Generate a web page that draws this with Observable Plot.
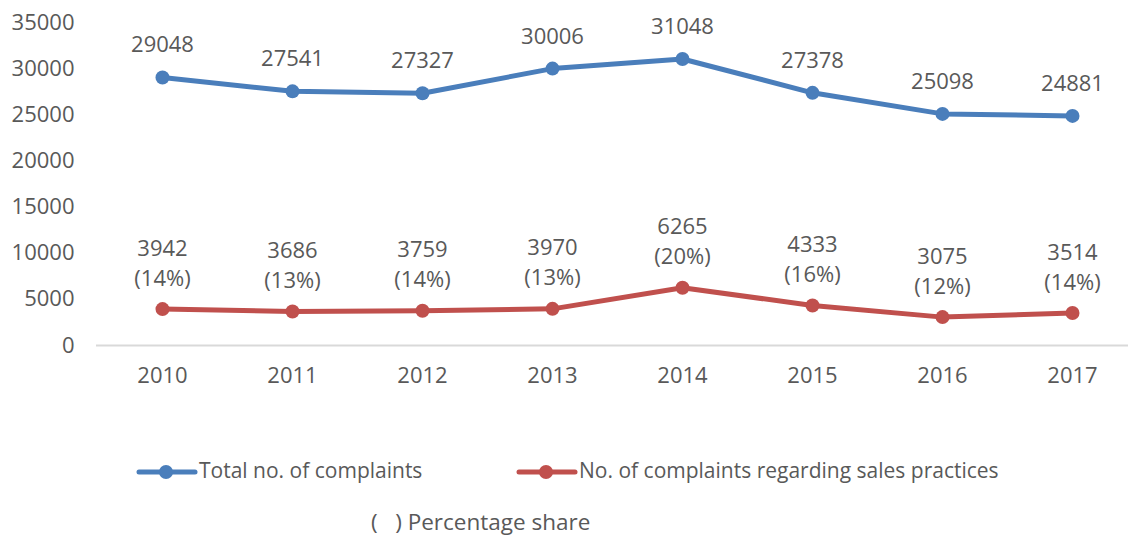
<!DOCTYPE html>
<html>
<head>
<meta charset="utf-8">
<script src="https://cdn.jsdelivr.net/npm/d3@7"></script>
<script src="https://cdn.jsdelivr.net/npm/@observablehq/plot@0.6"></script>
<style>
  body { margin: 0; background: #fff; font-family: "Open Sans", sans-serif; color: #595959; }
  #wrap { position: relative; width: 1132px; height: 538px; overflow: hidden; }
  #chart { position: absolute; left: 0; top: 0; }
  .leg { position: absolute; font-size: 21px; line-height: 1; white-space: nowrap; }
  .sym { position: absolute; }
</style>
</head>
<body>
<div id="wrap">
  <div id="chart"></div>
  <svg class="sym" style="left:136px; top:462px" width="62" height="20">
    <line x1="3" y1="10" x2="59" y2="10" stroke="#4a7ebb" stroke-width="5" stroke-linecap="round"/>
    <circle cx="30" cy="10" r="7" fill="#4a7ebb"/>
  </svg>
  <div class="leg" style="left:199px; top:460px">Total no. of complaints</div>
  <svg class="sym" style="left:516px; top:462px" width="62" height="20">
    <line x1="3" y1="10" x2="59" y2="10" stroke="#c0504d" stroke-width="5" stroke-linecap="round"/>
    <circle cx="30" cy="10" r="7" fill="#c0504d"/>
  </svg>
  <div class="leg" style="left:579px; top:460px">No. of complaints regarding sales practices</div>
  <div class="leg" style="left:371px; top:511px; font-size:22.5px">(&nbsp;&nbsp;&nbsp;) Percentage share</div>
</div>
<script>
const years = ["2010","2011","2012","2013","2014","2015","2016","2017"];
const totalComplaints = [29048, 27541, 27327, 30006, 31048, 27378, 25098, 24881];
const salesComplaints = [3942, 3686, 3759, 3970, 6265, 4333, 3075, 3514];
const salesShare = ["14%", "13%", "14%", "13%", "20%", "16%", "12%", "14%"];
const yTicks = [0, 5000, 10000, 15000, 20000, 25000, 30000, 35000];

const totalData = years.map((y, i) => ({year: y, value: totalComplaints[i]}));
const salesData = years.map((y, i) => ({year: y, value: salesComplaints[i], label: `${salesComplaints[i]}\n(${salesShare[i]})`}));

const blue = "#4a7ebb", red = "#c0504d", textColor = "#595959";
const fs = 22;

const chart = Plot.plot({
  width: 1132,
  height: 400,
  marginTop: 22,
  marginBottom: 55,
  marginLeft: 96,
  marginRight: 4,
  style: {fontFamily: "Open Sans, sans-serif", fontSize: fs + "px", color: textColor, background: "white"},
  x: {type: "point", domain: years, range: [161, 1072], padding: 0, label: null},
  y: {domain: [0, 35000], label: null},
  marks: [
    Plot.ruleY([0], {stroke: "#d9d9d9", strokeWidth: 2}),
    Plot.axisY({ticks: yTicks, tickSize: 0, tickPadding: 22, tickFormat: d => String(d), fontSize: fs, fill: textColor, label: null}),
    Plot.axisX({tickSize: 0, tickPadding: 22, fontSize: fs, fill: textColor, label: null}),
    Plot.line(totalData, {x: "year", y: "value", stroke: blue, strokeWidth: 5, strokeLinejoin: "round"}),
    Plot.dot(totalData, {x: "year", y: "value", fill: blue, r: 7}),
    Plot.text(totalData, {x: "year", y: "value", text: d => String(d.value), dy: -32, fill: textColor, fontSize: fs}),
    Plot.line(salesData, {x: "year", y: "value", stroke: red, strokeWidth: 5, strokeLinejoin: "round"}),
    Plot.dot(salesData, {x: "year", y: "value", fill: red, r: 7}),
    Plot.text(salesData, {x: "year", y: "value", text: "label", dy: -48, lineHeight: 1.36, fill: textColor, fontSize: fs})
  ]
});
document.getElementById("chart").appendChild(chart);
</script>
</body>
</html>
